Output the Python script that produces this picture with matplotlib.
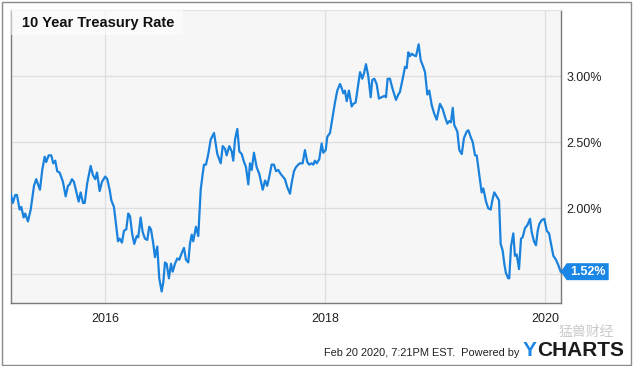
import matplotlib
matplotlib.use("Agg")
import matplotlib.pyplot as plt
from matplotlib.patches import Polygon, Rectangle
from matplotlib.transforms import ScaledTranslation

# ---- data (decimal year, 10-year treasury rate in %) ----
years = [
    2015.140, 2015.160, 2015.181, 2015.197, 2015.221, 2015.236, 2015.258, 2015.272, 2015.297, 2015.322,
    2015.352, 2015.372, 2015.406, 2015.427, 2015.449, 2015.463, 2015.485, 2015.509, 2015.527, 2015.545,
    2015.563, 2015.585, 2015.615, 2015.640, 2015.661, 2015.676, 2015.697, 2015.715, 2015.758, 2015.776,
    2015.797, 2015.813, 2015.836, 2015.867, 2015.888, 2015.909, 2015.925, 2015.949, 2015.970, 2016.000,
    2016.018, 2016.040, 2016.055, 2016.079, 2016.100, 2016.116, 2016.131, 2016.152, 2016.170, 2016.191,
    2016.209, 2016.225, 2016.246, 2016.264, 2016.286, 2016.300, 2016.322, 2016.340, 2016.361, 2016.382,
    2016.400, 2016.416, 2016.437, 2016.452, 2016.473, 2016.491, 2016.513, 2016.528, 2016.543, 2016.558,
    2016.579, 2016.598, 2016.613, 2016.634, 2016.655, 2016.673, 2016.695, 2016.716, 2016.734, 2016.755,
    2016.770, 2016.786, 2016.800, 2016.825, 2016.846, 2016.868, 2016.886, 2016.898, 2016.916, 2016.937,
    2016.959, 2016.989, 2017.019, 2017.050, 2017.068, 2017.089, 2017.104, 2017.128, 2017.150, 2017.164,
    2017.180, 2017.201, 2017.219, 2017.241, 2017.262, 2017.280, 2017.301, 2017.316, 2017.332, 2017.352,
    2017.377, 2017.401, 2017.432, 2017.453, 2017.473, 2017.492, 2017.513, 2017.534, 2017.553, 2017.573,
    2017.595, 2017.614, 2017.634, 2017.655, 2017.680, 2017.695, 2017.716, 2017.734, 2017.755, 2017.771,
    2017.795, 2017.816, 2017.837, 2017.855, 2017.877, 2017.892, 2017.907, 2017.923, 2017.946, 2017.968,
    2017.983, 2018.005, 2018.019, 2018.044, 2018.068, 2018.089, 2018.110, 2018.135, 2018.150, 2018.165,
    2018.180, 2018.196, 2018.216, 2018.241, 2018.256, 2018.277, 2018.296, 2018.317, 2018.337, 2018.353,
    2018.371, 2018.392, 2018.414, 2018.428, 2018.447, 2018.468, 2018.489, 2018.514, 2018.538, 2018.553,
    2018.568, 2018.589, 2018.614, 2018.644, 2018.665, 2018.680, 2018.705, 2018.726, 2018.741, 2018.756,
    2018.771, 2018.787, 2018.801, 2018.826, 2018.850, 2018.869, 2018.892, 2018.908, 2018.929, 2018.947,
    2018.969, 2018.990, 2019.014, 2019.044, 2019.069, 2019.090, 2019.111, 2019.129, 2019.144, 2019.160,
    2019.174, 2019.202, 2019.220, 2019.242, 2019.262, 2019.287, 2019.302, 2019.323, 2019.342, 2019.363,
    2019.378, 2019.402, 2019.423, 2019.438, 2019.463, 2019.483, 2019.505, 2019.523, 2019.538, 2019.560,
    2019.581, 2019.596, 2019.614, 2019.629, 2019.644, 2019.665, 2019.674, 2019.690, 2019.711, 2019.726,
    2019.742, 2019.763, 2019.781, 2019.796, 2019.817, 2019.838, 2019.863, 2019.878, 2019.899, 2019.917,
    2019.933, 2019.947, 2019.969, 2019.993, 2020.015, 2020.036, 2020.054, 2020.075, 2020.099, 2020.120,
    2020.142,
]
rates = [
    2.11, 2.04, 2.10, 2.10, 1.99, 2.01, 1.93, 1.96, 1.90, 1.99,
    2.17, 2.22, 2.14, 2.29, 2.39, 2.35, 2.40, 2.40, 2.34, 2.36,
    2.28, 2.27, 2.20, 2.09, 2.17, 2.18, 2.22, 2.20, 2.05, 2.12,
    2.04, 2.04, 2.19, 2.32, 2.25, 2.22, 2.27, 2.13, 2.20, 2.24,
    2.22, 2.14, 2.06, 2.01, 1.86, 1.75, 1.77, 1.74, 1.83, 1.84,
    1.96, 1.94, 1.80, 1.73, 1.79, 1.78, 1.93, 1.82, 1.77, 1.76,
    1.86, 1.84, 1.73, 1.63, 1.71, 1.47, 1.37, 1.44, 1.59, 1.58,
    1.47, 1.58, 1.52, 1.58, 1.62, 1.61, 1.66, 1.70, 1.61, 1.59,
    1.73, 1.80, 1.75, 1.86, 1.79, 2.14, 2.26, 2.33, 2.33, 2.41,
    2.52, 2.57, 2.41, 2.34, 2.47, 2.45, 2.40, 2.47, 2.43, 2.36,
    2.52, 2.60, 2.43, 2.41, 2.35, 2.31, 2.18, 2.34, 2.29, 2.42,
    2.31, 2.26, 2.14, 2.21, 2.17, 2.24, 2.33, 2.33, 2.28, 2.29,
    2.26, 2.24, 2.22, 2.16, 2.11, 2.19, 2.28, 2.31, 2.33, 2.34,
    2.34, 2.44, 2.35, 2.33, 2.34, 2.33, 2.36, 2.34, 2.37, 2.49,
    2.42, 2.44, 2.54, 2.57, 2.69, 2.80, 2.89, 2.94, 2.91, 2.87,
    2.89, 2.81, 2.89, 2.77, 2.79, 2.80, 2.91, 3.03, 2.98, 3.02,
    3.09, 3.00, 2.84, 2.97, 2.98, 2.94, 2.83, 2.84, 2.85, 2.84,
    2.98, 2.98, 2.90, 2.82, 2.86, 2.88, 2.98, 3.07, 3.06, 3.18,
    3.15, 3.17, 3.16, 3.15, 3.24, 3.12, 3.07, 3.03, 2.86, 2.89,
    2.78, 2.72, 2.67, 2.79, 2.75, 2.69, 2.64, 2.66, 2.65, 2.76,
    2.63, 2.58, 2.44, 2.41, 2.53, 2.58, 2.59, 2.54, 2.50, 2.40,
    2.40, 2.25, 2.12, 2.15, 2.05, 2.00, 1.99, 2.07, 2.12, 2.09,
    2.06, 1.73, 1.68, 1.58, 1.51, 1.47, 1.47, 1.71, 1.81, 1.64,
    1.65, 1.54, 1.77, 1.78, 1.85, 1.87, 1.92, 1.82, 1.75, 1.72,
    1.83, 1.88, 1.91, 1.92, 1.83, 1.81, 1.73, 1.64, 1.61, 1.57,
    1.52,
]
x_ticks = [2016, 2018, 2020]
x_tick_labels = ["2016", "2018", "2020"]
y_ticks = [1.5, 2.0, 2.5, 3.0]
y_tick_labels = ["", "2.00%", "2.50%", "3.00%"]
title = "10 Year Treasury Rate"
footer = "Feb 20 2020, 7:21PM EST.  Powered by"

LINE = "#1a82dc"
plt.rcParams["font.family"] = ["Liberation Sans", "DejaVu Sans"]

W, H = 635, 366
fig = plt.figure(figsize=(W / 100, H / 100), dpi=100)
fig.patch.set_facecolor("white")

# plot area in pixels: x 10.7..560.7, y 10..303
ax = fig.add_axes([10.7 / W, 1 - 303 / H, 550 / W, 293 / H])
ax.set_facecolor("#f6f6f6")
ax.plot(years, rates, color=LINE, lw=1.6, solid_joinstyle="round", zorder=3)

ax.set_xlim(2015.140, 2020.142)
ax.set_ylim(1.283, 3.5)
ax.set_xticks(x_ticks)
ax.set_xticklabels(x_tick_labels)
ax.set_yticks(y_ticks)
ax.set_yticklabels(y_tick_labels)
ax.yaxis.tick_right()
ax.tick_params(axis="both", length=0, labelsize=9, colors="#222222")
ax.tick_params(axis="x", pad=7)
ax.tick_params(axis="y", pad=4)
ax.grid(True, color="#dedede", lw=0.9, zorder=0)
ax.set_axisbelow(True)
for side in ["left", "bottom", "right"]:
    ax.spines[side].set_color("#7a7a7a")
    ax.spines[side].set_linewidth(1.0)
ax.spines["top"].set_color("#e2e2e2")
ax.spines["top"].set_linewidth(0.8)

# title box
fig.patches.append(Rectangle((11 / W, 1 - 35 / H), 172 / W, 25 / H,
                             transform=fig.transFigure, facecolor="white",
                             alpha=0.55, edgecolor="none", zorder=5))
fig.text(22 / W, 1 - 23 / H, title, fontsize=10.5, fontweight="bold",
         color="#111111", ha="left", va="center", zorder=6)

# callout with last value
last_x, last_y = years[-1], rates[-1]
trans = fig.dpi_scale_trans + ScaledTranslation(last_x, last_y, ax.transData)
poly = Polygon([(0, 0), (0.06, 0.085), (0.48, 0.085), (0.48, -0.085), (0.06, -0.085)],
               closed=True, transform=trans, facecolor="#1a86e6", edgecolor="none",
               clip_on=False, zorder=10)
fig.patches.append(poly)
fig.text(0.27, 0.0, f"{last_y:.2f}%", transform=trans, color="white",
         fontsize=9, fontweight="bold", ha="center", va="center", zorder=11)

# footer
fig.text(519 / W, 1 - 353 / H, footer, fontsize=7.9, color="#222222",
         ha="right", va="center")
fig.text(523 / W, 1 - 350 / H, "Y", fontsize=15, fontweight="bold",
         color="#1a86e6", ha="left", va="center")
fig.text(537 / W, 1 - 350 / H, "CHARTS", fontsize=15, fontweight="bold",
         color="#1b1b1b", ha="left", va="center")
# watermark
fig.text(586 / W, 1 - 332 / H, "猛兽财经", fontsize=10, color="#bdbdbd",
         alpha=0.8, ha="center", va="center",
         family=["Noto Sans CJK SC", "DejaVu Sans"])

# outer frame
fig.patches.append(Rectangle((1.5 / W, 1 - 364.5 / H), 629 / W, 363 / H,
                             transform=fig.transFigure, facecolor="none",
                             edgecolor="#8a8a8a", lw=1.0, zorder=1))

fig.savefig("out.png", dpi=100)
